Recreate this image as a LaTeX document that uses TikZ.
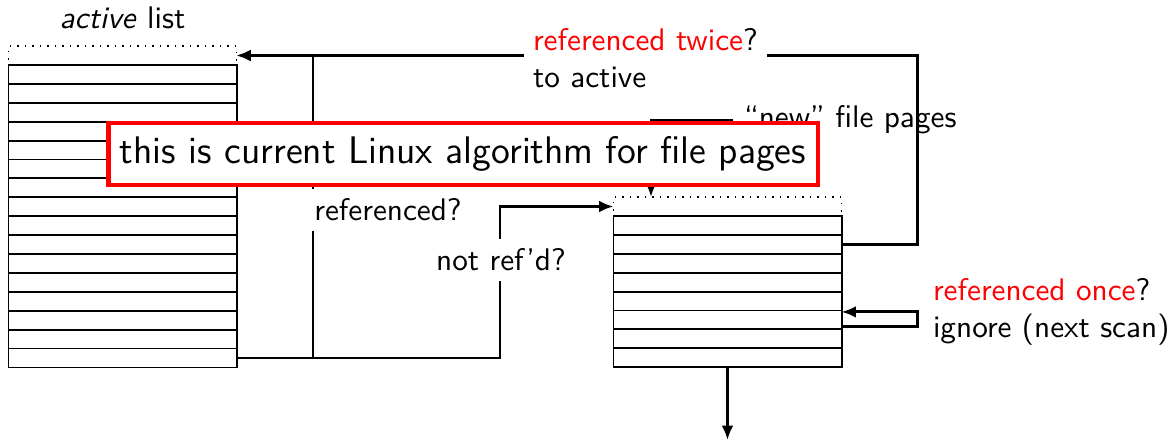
\documentclass[tikz,border=0pt]{standalone}
\usepackage{fontspec}
\usetikzlibrary{arrows,arrows.meta,positioning,calc}
\renewcommand{\familydefault}{\sfdefault}

\begin{document}
\begin{tikzpicture}[>={Latex[length=4.6pt,width=3.8pt]},x=0.32pt,y=-0.32pt]
        \tikzset{pagerow/.style={draw, rectangle, semithick, minimum width=73pt, minimum height=6.05pt, inner sep=0pt, outer sep=0pt},
        freeslot/.style={pagerow, thin, dotted},
        link/.style={draw, line width=0.95pt},
        lbl/.style={fill=white, align=left, inner sep=3pt},
        note/.style={draw=red, line width=1.4pt, fill=white, font=\fontsize{12.3}{15}\selectfont, minimum width=227pt, minimum height=19.8pt}
        }
        \useasboundingbox (0,0) rectangle (1168,443);
        \coordinate (refx) at (313,0);
        \coordinate (nrefx) at (500,0);
        \coordinate (loopx) at (917,0);
        \coordinate (newx) at (651,0);
        \coordinate (evicted) at (727.5,440);
%% active list
        \node [freeslot] (activetop) at (122.5,55.5) {};
        \node [above=2pt of activetop] (activelabel) {\textit{active} list};
        \node [pagerow, below=0pt of activetop] (active1) {};
        \foreach \i [remember=\i as \j (initially 1)] in {2,...,16}
            \node [pagerow, below=0pt of active\j] (active\i) {};
%% inactive list
        \node [freeslot] (inactivetop) at (727.5,206.5) {};
        \node [pagerow, below=0pt of inactivetop] (inactive1) {};
        \foreach \i [remember=\i as \j (initially 1)] in {2,...,8}
            \node [pagerow, below=0pt of inactive\j] (inactive\i) {};
%% paths
        \path[link,->] (active16.east) -| (refx |- activetop.east) -- (activetop.east);
        \path[link,->] (active16.east) -| (nrefx |- inactivetop.west) -- (inactivetop.west);
        \path[link,->] (inactive2.east) -| (loopx |- activetop.east) -- (activetop.east);
        \path[link,->] ($(inactive6.east)+(0,7)$) -| ($(loopx |- inactive6.east)+(0,-8)$)
                    -- ($(inactive6.east)+(0,-8)$);
        \path[link,->] (inactive8.south) -- (evicted);
        \node [anchor=west] (newpages) at (733,120) {``new'' file pages};
        \path[link,->] (newpages.west) -| (newx |- inactivetop.north);
%% labels
        \node [lbl, anchor=west] (twice) at (523,58) {\textcolor{red}{referenced twice}?\\to active};
        \node [lbl] (refd) at (388,210) {referenced?};
        \node [lbl] (notrefd) at (501,260) {not ref'd?};
        \node [lbl, anchor=west] (once) at (923,312) {\textcolor{red}{referenced once}?\\ignore (next scan)};
        \node [note] (algo) at (463,154) {this is current Linux algorithm for file pages};
\end{tikzpicture}
\end{document}
